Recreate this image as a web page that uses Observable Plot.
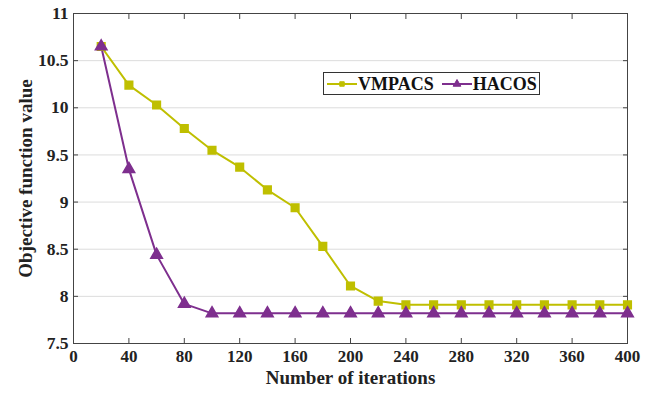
<!DOCTYPE html>
<html><head><meta charset="utf-8">
<script src="https://cdn.jsdelivr.net/npm/d3@7"></script>
<script src="https://cdn.jsdelivr.net/npm/@observablehq/plot@0.6"></script>
<style>
body{margin:0;background:#fff;}
#wrap{position:relative;width:651px;height:394px;font-family:"Liberation Serif","DejaVu Serif",serif;}
#wrap svg, #wrap svg text{font-family:"Liberation Serif","DejaVu Serif",serif !important;font-weight:bold;}
#legend{position:absolute;left:323px;top:72px;width:215px;height:21px;border:1px solid #333;background:#fff;display:flex;align-items:center;font-weight:bold;font-size:18px;color:#111;}
#legend .item{display:flex;align-items:center;margin-left:2px;}
#legend .item span{margin-left:0px;margin-right:5px;line-height:18px;}
</style></head><body><div id="wrap"></div>
<script>
const iterations = [20,40,60,80,100,120,140,160,180,200,220,240,260,280,300,320,340,360,380,400];
const vmpacs = [10.65,10.24,10.03,9.78,9.55,9.37,9.13,8.94,8.53,8.11,7.95,7.91,7.91,7.91,7.91,7.91,7.91,7.91,7.91,7.91];
const hacos  = [10.65,9.35,8.44,7.92,7.82,7.82,7.82,7.82,7.82,7.82,7.82,7.82,7.82,7.82,7.82,7.82,7.82,7.82,7.82,7.82];
const seriesNames = ["VMPACS","HACOS"];
const seriesColors = ["#bfbf00","#7e2f8e"];
const seriesSymbols = ["square","triangle"];
const xTicks = [0,40,80,120,160,200,240,280,320,360,400];
const yTicks = [7.5,8,8.5,9,9.5,10,10.5,11];
const xLabel = "Number of iterations";
const yLabel = "Objective function value";

const rows = [];
seriesNames.forEach((name, s) => {
  const vals = s === 0 ? vmpacs : hacos;
  iterations.forEach((it, i) => rows.push({series: name, x: it, y: vals[i]}));
});

const fmt = d => String(d);
const chart = Plot.plot({
  width: 651, height: 394,
  marginLeft: 73, marginRight: 24, marginTop: 13, marginBottom: 51,
  style: {fontWeight: "bold", fontSize: "17px", color: "#222", background: "#fff"},
  x: {domain: [0, 400]},
  y: {domain: [7.5, 11]},
  color: {domain: seriesNames, range: seriesColors},
  symbol: {domain: seriesNames, range: seriesSymbols},
  marks: [
    Plot.gridY(yTicks, {stroke: "#dcdcdc", strokeOpacity: 1, strokeWidth: 1}),
    Plot.axisX(xTicks, {anchor: "bottom", tickSize: 0, tickPadding: 6, tickFormat: fmt, label: null, fontSize: 17}),
    Plot.axisX(xTicks, {anchor: "bottom", tickSize: -5, tickFormat: () => "", label: null, stroke: "#444"}),
    Plot.axisX(xTicks, {anchor: "top", tickSize: -5, tickFormat: () => "", label: null, stroke: "#444"}),
    Plot.axisY(yTicks, {anchor: "left", tickSize: 0, tickPadding: 5, tickFormat: fmt, label: null, fontSize: 17.5}),
    Plot.axisY(yTicks, {anchor: "left", tickSize: -5, tickFormat: () => "", label: null, stroke: "#444"}),
    Plot.axisY(yTicks, {anchor: "right", tickSize: -5, tickFormat: () => "", label: null, stroke: "#444"}),
    Plot.frame({stroke: "#444", strokeWidth: 1}),
    Plot.line(rows, {x: "x", y: "y", z: "series", stroke: "series", strokeWidth: 2}),
    Plot.dot(rows, {x: "x", y: "y", symbol: "series", fill: "series", stroke: "series", r: 4.3}),
    Plot.text([xLabel], {frameAnchor: "bottom", dy: 40, fontSize: 19, fontWeight: "bold", fill: "#222"}),
    Plot.text([yLabel], {frameAnchor: "left", textAnchor: "middle", dx: -48, rotate: -90, fontSize: 19, fontWeight: "bold", fill: "#222"})
  ]
});
const wrap = document.getElementById("wrap");
wrap.appendChild(chart);

// legend
const legend = document.createElement("div");
legend.id = "legend";
seriesNames.forEach((name, i) => {
  const item = document.createElement("div");
  item.className = "item";
  const sym = d3.symbol(seriesSymbols[i] === "square" ? d3.symbolSquare : d3.symbolTriangle, seriesSymbols[i] === "square" ? 20 : 26)();
  item.innerHTML = `<svg width="32" height="14"><line x1="1" x2="31" y1="7" y2="7" stroke="${seriesColors[i]}" stroke-width="2"/><path d="${sym}" transform="translate(16,7)" fill="${seriesColors[i]}" stroke="${seriesColors[i]}"/></svg><span>${name}</span>`;
  legend.appendChild(item);
});
wrap.appendChild(legend);
</script>
</body></html>
